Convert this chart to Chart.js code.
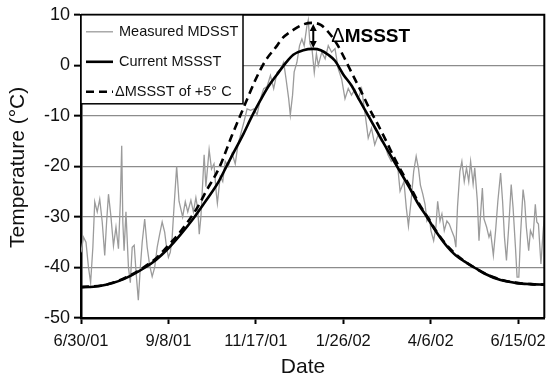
<!DOCTYPE html>
<html>
<head>
<meta charset="utf-8">
<script src="https://cdn.jsdelivr.net/npm/chart.js@4/dist/chart.umd.min.js"></script>
<style>
  html, body { margin: 0; padding: 0; background: #fff; }
  #wrap { width: 554px; height: 380px; }
</style>
</head>
<body>
<div id="wrap"><canvas id="chart" width="554" height="380"></canvas></div>
<script>
// days counted from 6/30/01
const measuredDays = [
  0, 2, 4, 6, 7.7, 9.5, 11, 13, 15, 17,
  19, 20.5, 22, 24, 26, 28, 30, 31.5, 32.6, 33.5,
  34.5, 36, 38, 39.5, 41, 42.6, 44, 45.9, 47.5, 49,
  51, 53, 55, 57, 59, 61, 63, 65, 67, 68.5,
  70, 71.5, 73, 74.5, 76.6, 78.5, 81.4, 83.5, 85.5, 88,
  90, 92, 93.5, 94.7, 96, 97.8, 98.6, 100, 102.6, 104.5,
  106.5, 108.4, 109.2, 111.5, 113.5, 115.5, 118, 121, 123.5, 125.7,
  128, 130.5, 133, 135.8, 138.5, 141, 143.7, 146.3, 149, 151.7,
  154.3, 157, 159.6, 162.3, 164.2, 166.3, 167.6, 169.4, 170.7, 172.9,
  175, 176.9, 178.7, 180.9, 182, 183.3, 185, 186.8, 188.5, 190,
  192.8, 195.5, 198, 200.7, 203.4, 206, 208.7, 211.4, 214, 216.6,
  219.3, 222, 224.7, 227.3, 230, 232.6, 235.2, 237.9, 240.5, 243.2,
  245.8, 248.5, 251.1, 253.8, 255.5, 258.6, 260.5, 262.2, 264.3, 266.4,
  268.4, 270.3, 271.8, 273.7, 275.5, 277, 279, 280.2, 282.4, 284.2,
  285.6, 287.5, 289, 290.9, 293, 294.9, 296.8, 298.9, 300.2, 301.5,
  303.4, 305, 306.9, 308.7, 310.5, 312, 314, 315.3, 317.4, 318.7,
  320, 321.4, 322.7, 324.8, 326.7, 328, 330.2, 332, 333.8, 336,
  337.6, 339.1, 340.7, 342.5, 344.5, 346, 347.9, 349.2, 350.6, 352,
  354, 355.3, 356.6, 358.5, 359.9, 362, 363.8, 365, 366.3, 368.3,
  369.9, 371
];
const measuredTemps = [
  -37, -34, -35, -40, -43, -36, -27, -29, -26.5, -31,
  -37.6, -31, -25.5, -30, -35.7, -32, -36.3, -27, -15.9, -31,
  -36.7, -29, -40, -43, -36, -35.6, -40.6, -46.5, -40, -35,
  -30.4, -36, -39.6, -41.8, -40, -36, -33.4, -31, -33, -36,
  -38, -37, -34, -28, -20, -26.9, -30, -27, -29, -26.7,
  -29, -26.2, -28.5, -33.4, -30, -21.6, -17.7, -24, -16.7, -20.5,
  -19.5, -25.5, -27.3, -22, -23, -19, -20, -17.4, -19.5, -15.7,
  -13.5, -11.2, -8.6, -8.9, -8.6, -9.8, -6.6, -4.6, -4.2, -2,
  -4.6, -1.4, -0.8, 0.6, -2.7, -6.6, -9.8, -5.9, -1.3, 0.6,
  3.9, 5.2, 3.9, 7.8, 9, 4.3, 3.2, -1.4, 2.3, 0,
  2.6, 1.3, 3.9, 2.6, 3.3, -0.7, -2.7, -6.6, -4.6, -5.9,
  -4.8, -6.6, -4.6, -9.2, -14.4, -12.4, -15.7, -13.8, -15, -15.7,
  -17.7, -19, -18.4, -20.5, -24.9, -23, -28.2, -31.8, -26.9, -21,
  -18, -20.5, -23.7, -25.5, -27.5, -30.8, -30, -32.7, -34.7, -32,
  -26.9, -30.8, -29.4, -32.7, -30.8, -31.4, -32.7, -34, -36, -28,
  -21, -19, -23, -20.3, -23, -19, -23.5, -20.3, -26.9, -34.7,
  -29.4, -24.3, -30.4, -32, -34, -33, -37.6, -32.7, -26.9, -21.3,
  -26.9, -34, -38.6, -32, -23.6, -28.2, -36, -41.9, -41.9, -33.4,
  -24.6, -27, -32, -36.7, -32.7, -34, -27.5, -31, -31.4, -39.3,
  -33.4, -30
];

const currentDays = [
  0, 10, 20, 30, 40, 50, 60, 70, 80, 90,
  100, 110, 116.5, 120, 130, 137, 143.7, 150, 157, 164,
  170, 178, 186, 192, 198, 203.4, 210, 216.6, 223, 229.9,
  236, 243, 250, 256.4, 263, 270, 277, 284, 293.6, 300,
  307, 317, 323, 336, 349, 360, 371
];
const currentTemps = [
  -43.9, -43.8, -43.4, -42.7, -41.6, -40.2, -38.5, -36.2, -33.4, -30.3,
  -26.8, -23.1, -20, -18.3, -13.6, -10, -6.9, -4.2, -1.8, 0.5,
  2.1, 3.0, 3.25, 3.0, 2.1, 0.9, -1.8, -4, -6.9, -9.9,
  -12.6, -15.7, -18.7, -21.4, -24.2, -27.4, -30, -32.8, -36, -37.6,
  -38.8, -40.3, -41.2, -42.5, -43.1, -43.3, -43.4
];

const warmedDays = [
  0, 20, 40, 50, 60, 70, 80, 93, 100, 110.6,
  121, 130.5, 134.4, 140, 147.7, 157, 161, 170, 178, 185,
  192, 198, 205, 211.4, 218, 224.6, 231, 237.9, 245, 251.1,
  258, 264.4, 271, 278, 285, 293, 305, 317, 330, 345,
  360, 371
];
const warmedTemps = [
  -43.9, -43.4, -41.5, -40, -38.2, -35.6, -32.8, -28.2, -25, -20.3,
  -13.8, -8.2, -5.9, -2.7, 0.9, 3.9, 5.3, 7.0, 8.1, 8.4,
  8.0, 6.6, 4.2, 1.2, -2.1, -5.3, -8.6, -11.8, -15.3, -18.4,
  -21.6, -24.4, -27.5, -30.2, -33.0, -35.6, -38.4, -40.3, -41.9, -42.9,
  -43.3, -43.4
];

const xTickDays = [0, 70, 140, 210, 280, 350];
const xTickLabels = ['6/30/01', '9/8/01', '11/17/01', '1/26/02', '4/6/02', '6/15/02'];
const seriesNames = ['Measured MDSST', 'Current MSSST', '\u0394MSSST of +5\u00b0 C'];
const deltaLabel = ['\u0394', 'MSSST'];
const axisTitles = ['Date', 'Temperature (\u00b0C)'];

const FONT = "'Liberation Sans', Arial, Helvetica, sans-serif";
const GREY = '#9b9b9b';

class SeasonChart {
  constructor(canvas) {
    this.canvas = canvas;
    this._createDatasets();
    this._createPlugin();
    this._createConfig();
    this.chart = new Chart(this.canvas.getContext('2d'), this.config);
  }

  _points(xs, ys) {
    return xs.map((x, i) => ({ x, y: ys[i] }));
  }

  _createDatasets() {
    this.datasets = [
      {
        label: seriesNames[0],
        data: this._points(measuredDays, measuredTemps),
        borderColor: GREY,
        borderWidth: 1.3,
        pointRadius: 0,
        tension: 0,
        order: 3,
      },
      {
        label: seriesNames[1],
        data: this._points(currentDays, currentTemps),
        borderColor: '#000',
        borderWidth: 2.6,
        pointRadius: 0,
        cubicInterpolationMode: 'monotone',
        order: 2,
      },
      {
        label: seriesNames[2],
        data: this._points(warmedDays, warmedTemps),
        borderColor: '#000',
        borderWidth: 2.6,
        borderDash: [8, 5],
        pointRadius: 0,
        cubicInterpolationMode: 'monotone',
        order: 1,
      },
    ];
  }

  _createPlugin() {
    const self = this;
    this.plugin = {
      id: 'extras',
      afterDatasetsDraw(chart) {
        const ctx = chart.ctx;
        const area = chart.chartArea;
        ctx.save();
        self._drawFrame(ctx, area);
        self._drawDelta(ctx, chart);
        self._drawLegend(ctx, area);
        self._drawTitles(ctx, area);
        ctx.restore();
      },
    };
  }

  _drawFrame(ctx, area) {
    ctx.strokeStyle = '#000';
    ctx.lineWidth = 2;
    ctx.beginPath();
    ctx.moveTo(area.left, area.top);
    ctx.lineTo(area.right, area.top);
    ctx.lineTo(area.right, area.bottom);
    ctx.stroke();
  }

  _drawDelta(ctx, chart) {
    const xs = chart.scales.x;
    const ys = chart.scales.y;
    const low = Math.max(...currentTemps);
    const high = Math.max(...warmedTemps);
    const day = currentDays[currentTemps.indexOf(low)];
    const x = xs.getPixelForValue(day);
    const y1 = ys.getPixelForValue(high) + 1;
    const y2 = ys.getPixelForValue(low) - 1;

    ctx.strokeStyle = '#000';
    ctx.fillStyle = '#000';
    ctx.lineWidth = 2;
    ctx.beginPath();
    ctx.moveTo(x, y1 + 4);
    ctx.lineTo(x, y2 - 4);
    ctx.stroke();
    [[y1, 1], [y2, -1]].forEach(([y, dir]) => {
      ctx.beginPath();
      ctx.moveTo(x, y);
      ctx.lineTo(x - 3.5, y + dir * 7);
      ctx.lineTo(x + 3.5, y + dir * 7);
      ctx.closePath();
      ctx.fill();
    });

    const tx = x + 18;
    const ty = (y1 + y2) / 2 + 1;
    ctx.textBaseline = 'middle';
    ctx.textAlign = 'left';
    ctx.font = `20px ${FONT}`;
    ctx.fillText(deltaLabel[0], tx, ty);
    const w = ctx.measureText(deltaLabel[0]).width;
    ctx.font = `bold 19px ${FONT}`;
    ctx.fillText(deltaLabel[1], tx + w, ty);
  }

  _drawLegend(ctx, area) {
    const left = area.left;
    const top = area.top;
    const width = 162;
    const height = 89;
    ctx.fillStyle = '#fff';
    ctx.fillRect(left, top, width, height);
    ctx.strokeStyle = '#000';
    ctx.lineWidth = 1.5;
    ctx.strokeRect(left, top, width, height);

    ctx.font = `14.5px ${FONT}`;
    ctx.textBaseline = 'middle';
    ctx.textAlign = 'left';
    this.datasets.forEach((ds, i) => {
      const y = top + 17 + i * 30;
      ctx.save();
      ctx.strokeStyle = ds.borderColor;
      ctx.lineWidth = ds.borderWidth;
      ctx.setLineDash(ds.borderDash || []);
      ctx.beginPath();
      ctx.moveTo(left + 5, y);
      ctx.lineTo(left + 32, y);
      ctx.stroke();
      ctx.restore();
      ctx.fillStyle = '#111';
      ctx.fillText(ds.label, left + (ds.borderDash ? 34 : 38), y);
    });
  }

  _drawTitles(ctx, area) {
    ctx.fillStyle = '#111';
    ctx.font = `21px ${FONT}`;
    ctx.textAlign = 'center';
    ctx.textBaseline = 'middle';
    ctx.fillText(axisTitles[0], 303, 367);
    ctx.save();
    ctx.translate(18, (area.top + area.bottom) / 2 + 1);
    ctx.rotate(-Math.PI / 2);
    ctx.fillText(axisTitles[1], 0, 0);
    ctx.restore();
  }

  _createConfig() {
    this.config = {
      type: 'line',
      data: { datasets: this.datasets },
      plugins: [this.plugin],
      options: {
        responsive: false,
        animation: false,
        devicePixelRatio: 1,
        layout: { padding: { top: 12, right: 7, left: 0, bottom: 0 } },
        plugins: { legend: { display: false }, tooltip: { enabled: false } },
        scales: {
          x: {
            type: 'linear',
            min: 0,
            max: 371,
            afterBuildTicks: (s) => { s.ticks = xTickDays.map((v) => ({ value: v })); },
            afterFit: (s) => { s.height = 62; },
            ticks: {
              callback: (v) => xTickLabels[xTickDays.indexOf(v)],
              autoSkip: false,
              maxRotation: 0,
              padding: 8,
              color: '#111',
              font: { family: FONT, size: 16.5 },
            },
            grid: { drawOnChartArea: false, tickLength: 6, tickColor: '#000', tickWidth: 2 },
            border: { color: '#000', width: 2.5 },
          },
          y: {
            min: -50,
            max: 10,
            afterFit: (s) => { s.width = 81; },
            ticks: {
              stepSize: 10,
              padding: 4,
              color: '#111',
              font: { family: FONT, size: 18 },
            },
            grid: { color: '#8c8c8c', lineWidth: 1.3, tickColor: '#000', tickLength: 7, tickWidth: 2 },
            border: { color: '#000', width: 2.5 },
          },
        },
      },
    };
  }
}

new SeasonChart(document.getElementById('chart'));
</script>
</body>
</html>
